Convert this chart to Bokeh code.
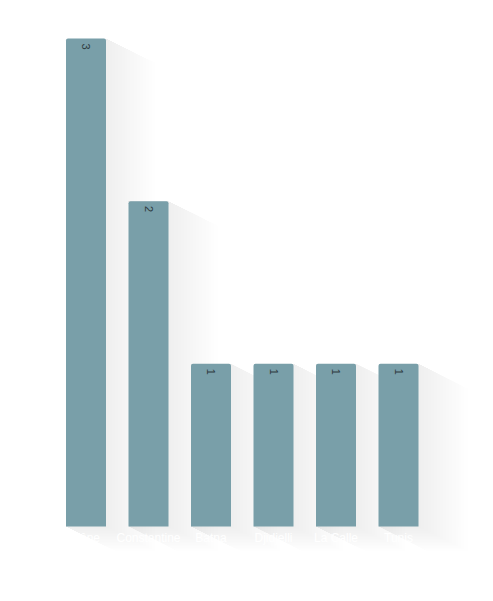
import numpy as np
from bokeh.plotting import figure
from bokeh.models import Range1d
from bokeh.embed import file_html
from bokeh.resources import INLINE
from bokeh.core.properties import value

categories = ["Bône", "Constantine", "Batna", "Djidjelli", "La Calle", "Tunis"]
counts = [3, 2, 1, 1, 1, 1]

W, H = 477, 585
sx = 62.5     # px per category step
sy = 162.67   # px per count unit
x_start = -85.5 / sx
x_end = x_start + W / sx
y_end = 526 / sy
y_start = y_end - H / sy

xpos = list(range(len(categories)))
bw = 0.64

p = figure(width=W, height=H, x_range=Range1d(x_start, x_end), y_range=Range1d(y_start, y_end),
           output_backend="svg", toolbar_location=None, min_border=0,
           x_axis_type=None, y_axis_type=None)
p.grid.visible = False
p.outline_line_color = None
p.background_fill_color = "white"
p.border_fill_color = "white"

# long shadow layers
N = 16
Lmax = 55.0
ang = np.arctan(0.5)
for k in range(1, N + 1):
    L = Lmax * k / N
    dx = L * np.cos(ang) / sx
    dy = L * np.sin(ang) / sy
    xs, ys = [], []
    for xi, v in zip(xpos, counts):
        x0, x1 = xi - bw / 2, xi + bw / 2
        xs.append([x0, x1, x1 + dx, x1 + dx, x0 + dx, x0])
        ys.append([v, v, v - dy, -dy, -dy, 0])
    p.patches(xs, ys, fill_color="#8c9aa6", fill_alpha=0.013, line_color=None)

p.vbar(x=xpos, top=counts, bottom=0, width=bw, fill_color="#799fa9", line_color=None,
       border_radius=(2, 2, 0, 0))

p.text(x=xpos, y=[c - 8 / sy for c in counts], text=[str(c) for c in counts],
       angle=-np.pi / 2, text_align="center", text_baseline="middle",
       text_font=value("Liberation Sans"), text_font_size="11px", text_color="#2f3b40")

p.text(x=xpos, y=[-11 / sy] * len(xpos), text=categories,
       text_align="center", text_baseline="middle",
       text_font=value("Liberation Sans"), text_font_size="12px", text_color="#ffffff")

open("out.html", "w").write(file_html(p, INLINE))
